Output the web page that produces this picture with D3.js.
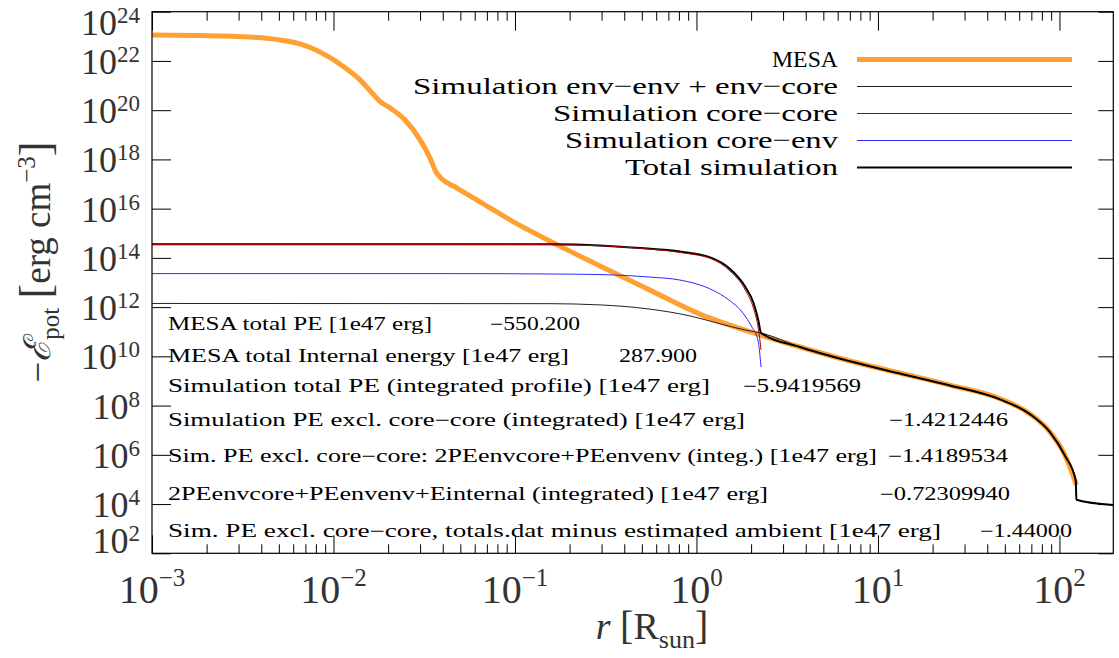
<!DOCTYPE html>
<html>
<head>
<meta charset="utf-8">
<title>Potential energy density profile</title>
<style>
  body { margin: 0; background: #fff; }
  svg text { font-family: "Liberation Serif", "DejaVu Serif", serif; }
  .tick line { stroke: #000; }
</style>
</head>
<body>
<div id="chart"></div>
<script src="https://d3js.org/d3.v7.min.js"></script>
<script>
// values: r in R_sun, -E_pot in erg cm^-3
var mesaR = [0.001, 0.00184, 0.00347, 0.00507, 0.00653, 0.00843, 0.01087, 0.0140, 0.0163, 0.0180,
             0.0205, 0.0248, 0.0300, 0.0340, 0.0367, 0.0396, 0.0467, 0.0641, 0.0938, 0.177,
             0.294, 0.554, 1.045, 2.24, 3.72, 7.01, 13.2, 24.9, 47.0, 68.7, 88.6, 107, 124];
var mesaE = [1.12e23, 1.07e23, 9.3e22, 7.1e22, 4.9e22, 2.3e22, 7.4e21, 1.7e21, 5.0e20, 2.3e20,
             1.23e20, 4.0e19, 6.2e18, 1.15e18, 3.1e17, 1.6e17, 7.6e16, 1.9e16, 3.5e15, 3.0e14,
             4.7e13, 4.9e12, 5.2e11, 7.4e10, 2.4e10, 6.5e9, 2.1e9, 6.8e8, 1.9e8, 4.6e7, 8.5e6, 1.0e6, 6.0e4];

// outside the softened core only the envelope terms are left (shared by env and total)
var outerR = [2.27, 3.72, 7.01, 13.2, 24.9, 47.0, 68.7, 88.6, 107, 123, 124, 198];
var outerE = [8.9e10, 2.4e10, 6.3e9, 2.0e9, 6.6e8, 1.8e8, 4.5e7, 8.3e6, 9.5e5, 8.9e4, 1.5e4, 9.1e3];

var envR = [0.001, 0.156, 0.294, 0.554, 0.92, 1.35, 1.86];
var envE = [1.41e12, 1.38e12, 1.23e12, 8.3e11, 4.4e11, 2.1e11, 1.17e11];

var coreCoreR = [0.001, 0.0437, 0.156, 0.294, 0.488, 0.81, 1.22, 1.51, 1.86, 2.06, 2.19, 2.27];
var coreCoreE = [3.55e14, 3.55e14, 3.45e14, 3.1e14, 2.45e14, 1.66e14, 8.9e13, 3.2e13, 4.9e12, 9.1e11, 1.4e11, 1.8e10];

var coreEnvR = [0.001, 0.0437, 0.177, 0.294, 0.554, 0.81, 1.22, 1.51, 1.80, 2.02, 2.18, 2.27];
var coreEnvE = [2.3e13, 2.3e13, 2.2e13, 2.1e13, 1.66e13, 1.26e13, 5.0e12, 1.95e12, 5.8e11, 1.55e11, 4.6e10, 3.7e9];

var totalR = [0.001, 0.0437, 0.156, 0.294, 0.488, 0.81, 1.22, 1.51, 1.86, 2.06, 2.19];
var totalE = [3.6e14, 3.6e14, 3.55e14, 3.2e14, 2.5e14, 1.8e14, 9.8e13, 3.9e13, 6.6e12, 1.5e12, 3.0e11];

var legendLabels = ["MESA", "Simulation env\u2212env + env\u2212core", "Simulation core\u2212core",
                    "Simulation core\u2212env", "Total simulation"];

var annotLabels = [
  "MESA total PE [1e47 erg]",
  "MESA total Internal energy [1e47 erg]",
  "Simulation total PE (integrated profile) [1e47 erg]",
  "Simulation PE excl. core\u2212core (integrated) [1e47 erg]",
  "Sim. PE excl. core\u2212core: 2PEenvcore+PEenvenv (integ.) [1e47 erg]",
  "2PEenvcore+PEenvenv+Einternal (integrated) [1e47 erg]",
  "Sim. PE excl. core\u2212core, totals.dat minus estimated ambient [1e47 erg]"
];
var annotValues = ["\u2212550.200", "287.900", "\u22125.9419569", "\u22121.4212446",
                   "\u22121.4189534", "\u22120.72309940", "\u22121.44000"];

var xMajor = [1e-3, 1e-2, 1e-1, 1e0, 1e1, 1e2];
var yMajor = [1e2, 1e4, 1e6, 1e8, 1e10, 1e12, 1e14, 1e16, 1e18, 1e20, 1e22, 1e24];

// layout
var W = 1119, H = 658;
var margin = {top: 11.7, right: 5.7, bottom: 104.7, left: 152};
var width = W - margin.left - margin.right,
    height = H - margin.top - margin.bottom;

var annotBase = [330, 362, 392, 426, 462, 500, 537];
var annotLabelEnd = [432, 569, 710, 745, 877, 768, 941];
var annotValueX = [490, 619, 743, 889, 888, 880, 980];
var annotValueEnd = [580, 697, 861, 1008, 1008, 1010, 1072];

var legendStyle = [
  {color: "#ffa032", w: 5},
  {color: "#222", w: 1},
  {color: "#b00000", w: 1},
  {color: "#2a2aff", w: 1},
  {color: "#000", w: 2}
];
var legendTextStart = [772, 413, 553, 565, 625];

var svg = d3.select("#chart").append("svg")
    .attr("width", W).attr("height", H);

var g = svg.append("g")
    .attr("transform", "translate(" + margin.left + "," + margin.top + ")");

var x = d3.scaleLog().domain([1e-3, 198]).range([0, width]);
var y = d3.scaleLog().domain([1e2, 1e24]).range([height, 0]);

// minor x ticks
var xMinor = [];
xMajor.forEach(function(m) {
  for (var k = 2; k <= 9; k++) if (k * m < 198) xMinor.push(k * m);
});

g.append("defs").append("clipPath").attr("id", "clip")
  .append("rect").attr("width", width).attr("height", height);

function noDomain(sel) { sel.select(".domain").remove(); }

g.append("g").attr("transform", "translate(0," + height + ")")
  .call(d3.axisBottom(x).tickValues(xMinor).tickSize(-9).tickFormat("")).call(noDomain);
g.append("g").attr("transform", "translate(0," + height + ")")
  .call(d3.axisBottom(x).tickValues(xMajor).tickSize(-18).tickFormat("")).call(noDomain);
g.append("g")
  .call(d3.axisTop(x).tickValues(xMinor).tickSize(-9).tickFormat("")).call(noDomain);
g.append("g")
  .call(d3.axisTop(x).tickValues(xMajor).tickSize(-19).tickFormat("")).call(noDomain);
g.append("g")
  .call(d3.axisLeft(y).tickValues(yMajor).tickSize(-19).tickFormat("")).call(noDomain);
g.append("g").attr("transform", "translate(" + width + ",0)")
  .call(d3.axisRight(y).tickValues(yMajor).tickSize(-15).tickFormat("")).call(noDomain);

// tick labels
function expOf(v) { return Math.round(Math.log10(v)); }
function expText(e) { return e < 0 ? "\u2212" + (-e) : "" + e; }

var xl = g.append("g").attr("fill", "#333");
xMajor.forEach(function(v) {
  var t = xl.append("text")
    .attr("x", x(v)).attr("y", height + 50)
    .attr("text-anchor", "middle").style("font-size", "40px");
  t.append("tspan").text("10");
  t.append("tspan").attr("dy", -17).style("font-size", "25px").text(expText(expOf(v)));
});

var yl = g.append("g").attr("fill", "#333");
yMajor.forEach(function(v, i) {
  var shift = 13;
  if (i === yMajor.length - 1) shift = 23;
  if (i === 0) shift = 0;
  var t = yl.append("text")
    .attr("x", -12).attr("y", y(v) + shift)
    .attr("text-anchor", "end").style("font-size", "36px");
  t.append("tspan").text("10");
  t.append("tspan").attr("dy", -12).style("font-size", "23px").text(expText(expOf(v)));
});

// axis titles
var yt = svg.append("text")
  .attr("transform", "translate(50,262) rotate(-90)")
  .attr("text-anchor", "middle").attr("fill", "#333")
  .style("font-size", "37px");
yt.append("tspan").text("\u2212");
yt.append("tspan").style("font-style", "italic").text("\u2130");
yt.append("tspan").attr("dy", 9).style("font-size", "25px").text("pot");
yt.append("tspan").attr("dy", -9).text(" ");
yt.append("tspan").style("font-size", "44px").text("[");
yt.append("tspan").text("erg cm");
yt.append("tspan").attr("dy", -15).style("font-size", "25px").text("\u22123");
yt.append("tspan").attr("dy", 15).style("font-size", "44px").text("]");

var xt = svg.append("text")
  .attr("x", 652).attr("y", 639)
  .attr("text-anchor", "middle").attr("fill", "#333")
  .style("font-size", "38px");
xt.append("tspan").style("font-style", "italic").text("r");
xt.append("tspan").text(" ");
xt.append("tspan").style("font-size", "40px").text("[");
xt.append("tspan").text("R");
xt.append("tspan").attr("dy", 9).style("font-size", "26px").text("sun");
xt.append("tspan").attr("dy", -9).style("font-size", "40px").text("]");

// curves
function zip(rs, es) { return rs.map(function(r, i) { return [r, es[i]]; }); }
var line = d3.line()
  .x(function(d) { return x(d[0]); })
  .y(function(d) { return y(d[1]); })
  .curve(d3.curveMonotoneX);

var series = [
  zip(mesaR, mesaE),
  zip(envR.concat(outerR), envE.concat(outerE)),
  zip(coreCoreR, coreCoreE),
  zip(coreEnvR, coreEnvE),
  zip(totalR.concat(outerR), totalE.concat(outerE))
];
var drawOrder = [0, 1, 4, 2, 3];

var curves = g.append("g").attr("clip-path", "url(#clip)");
drawOrder.forEach(function(i) {
  curves.append("path")
    .attr("d", line(series[i]))
    .attr("fill", "none")
    .attr("stroke", legendStyle[i].color)
    .attr("stroke-width", legendStyle[i].w)
    .attr("stroke-linejoin", "round");
});

// frame
g.append("rect").attr("width", width).attr("height", height)
  .attr("fill", "none").attr("stroke", "#000").attr("stroke-width", 1.2);

// legend
var lg = svg.append("g");
legendLabels.forEach(function(lab, i) {
  var ly = 59 + i * 27;
  lg.append("line")
    .attr("x1", 857).attr("x2", 1072).attr("y1", ly + 0.5).attr("y2", ly + 0.5)
    .attr("stroke", legendStyle[i].color).attr("stroke-width", legendStyle[i].w);
  lg.append("text")
    .attr("x", 838).attr("y", ly + 8)
    .attr("text-anchor", "end")
    .attr("textLength", 838 - legendTextStart[i])
    .attr("lengthAdjust", "spacingAndGlyphs")
    .style("font-size", "24px")
    .text(lab);
});

// annotations
var an = svg.append("g").style("font-size", "18px");
annotLabels.forEach(function(lab, i) {
  an.append("text")
    .attr("x", 168).attr("y", annotBase[i])
    .attr("textLength", annotLabelEnd[i] - 168)
    .attr("lengthAdjust", "spacingAndGlyphs")
    .text(lab);
  an.append("text")
    .attr("x", annotValueX[i]).attr("y", annotBase[i])
    .attr("textLength", annotValueEnd[i] - annotValueX[i])
    .attr("lengthAdjust", "spacingAndGlyphs")
    .text(annotValues[i]);
});
</script>
</body>
</html>
